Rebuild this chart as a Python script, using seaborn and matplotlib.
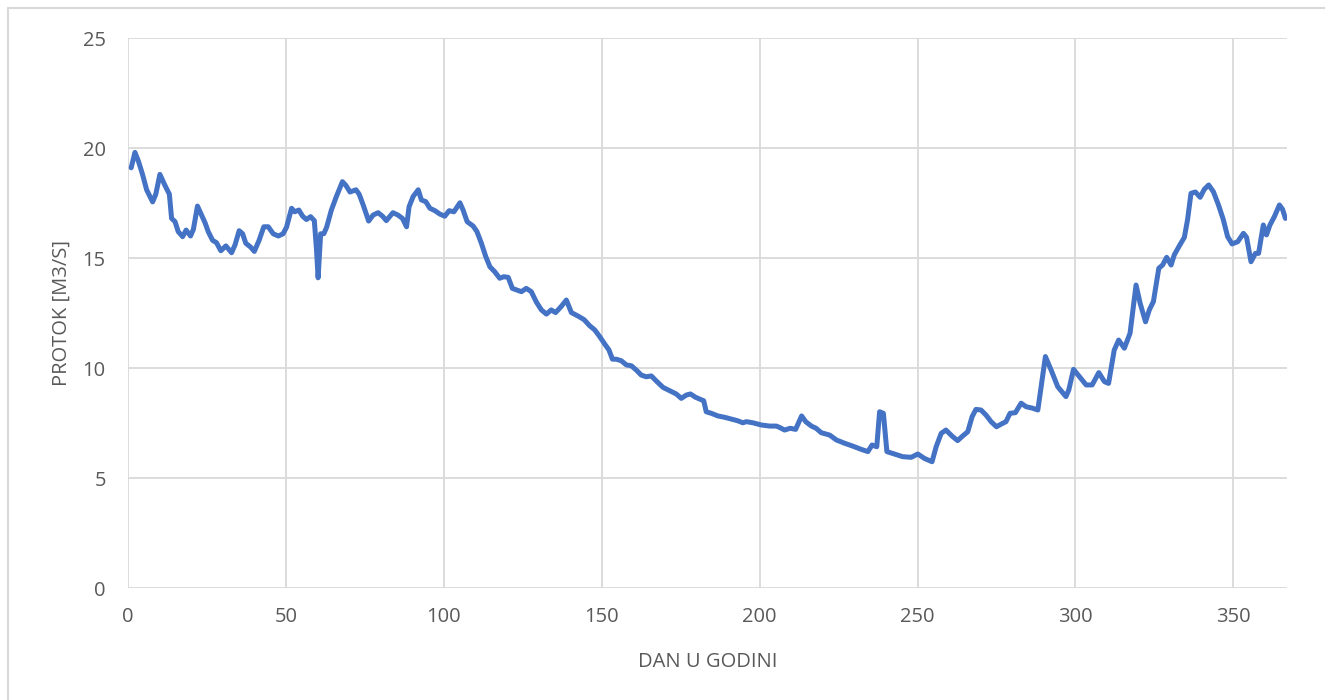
import matplotlib
matplotlib.use("Agg")
import matplotlib.pyplot as plt
import seaborn as sns
import pandas as pd
from matplotlib.lines import Line2D

# ---- data ----
days = [1, 2.2, 3.3, 4.6, 5.9, 7.8, 8.8, 10.1, 11.7, 13.1, 13.8, 14.9, 15.9, 17.3, 18.4, 19.8,
        20.7, 22.0, 23.3, 24.4, 25.4, 26.8, 28.0, 29.4, 31.0, 32.8, 33.9, 35.2, 36.3, 37.3, 38.8,
        40.0, 41.5, 43.0, 44.4, 46.0, 47.6, 49.1, 50.2, 51.8, 52.8, 54.1, 55.3, 56.5, 57.8, 59.0,
        59.7, 60.2, 61.0, 62.0, 62.9, 64.4, 66.0, 67.9, 69.0, 70.3, 72.2, 73.2, 74.5, 76.2, 77.6,
        79.2, 80.6, 81.8, 83.9, 85.5, 86.9, 88.2, 89.0, 90.3, 91.9, 92.9, 94.3, 95.6, 97.2, 98.7,
        100.3, 101.7, 103.2, 105.1, 106.1, 107.4, 109.3, 110.5, 111.9, 113.3, 114.6, 116.1, 117.7,
        119.0, 120.4, 121.7, 123.0, 124.6, 126.1, 127.7, 129.3, 130.9, 132.5, 134.0, 135.4, 137.2,
        138.8, 140.4, 142.5, 144.4, 146.2, 147.8, 149.4, 150.9, 152.3, 153.4, 154.6, 156.2, 157.8,
        159.4, 161.0, 162.5, 164.1, 165.7, 167.5, 169.4, 171.5, 173.6, 175.2, 176.8, 178.1, 179.7,
        181.2, 182.3, 183.1, 184.7, 186.8, 188.9, 191.0, 193.1, 194.7, 195.8, 197.9, 200.5, 203.2,
        205.3, 206.3, 207.9, 209.7, 211.4, 213.3, 214.6, 216.4, 217.9, 219.5, 222.2, 224.3, 226.9,
        229.5, 232.2, 234.3, 235.6, 237.1, 238.0, 239.2, 240.3, 242.7, 245.3, 248.0, 250.1, 252.2,
        254.6, 255.9, 257.5, 259.0, 260.9, 262.7, 264.3, 265.9, 267.3, 268.5, 270.1, 271.7, 273.3,
        275.0, 276.5, 278.0, 279.3, 281.0, 282.8, 284.4, 286.5, 288.1, 290.5, 292.3, 294.4, 297.0,
        297.9, 299.4, 301.3, 303.4, 305.3, 307.4, 309.2, 310.5, 312.3, 313.7, 315.5, 317.3, 319.2,
        320.5, 322.2, 323.4, 324.7, 326.4, 327.6, 328.9, 330.3, 331.3, 332.9, 334.5, 335.5, 336.6,
        338.0, 339.5, 340.8, 342.2, 343.7, 345.3, 346.8, 348.2, 349.6, 351.4, 353.2, 354.2, 355.6,
        357.0, 358.0, 359.5, 360.5, 361.6, 363.0, 364.6, 365.6, 366.5]
flow = [19.1, 19.8, 19.4, 18.8, 18.1, 17.55, 17.9, 18.8, 18.3, 17.9, 16.8, 16.65, 16.2, 15.97, 16.27, 16.0,
        16.3, 17.36, 16.95, 16.6, 16.2, 15.8, 15.7, 15.33, 15.55, 15.24, 15.6, 16.24, 16.1, 15.67, 15.5,
        15.3, 15.8, 16.42, 16.42, 16.1, 16.0, 16.1, 16.4, 17.26, 17.1, 17.18, 16.9, 16.75, 16.88, 16.7,
        15.36, 14.1, 16.1, 16.1, 16.4, 17.18, 17.8, 18.47, 18.3, 18.0, 18.1, 17.9, 17.4, 16.68, 16.95,
        17.06, 16.9, 16.7, 17.06, 16.95, 16.8, 16.42, 17.33, 17.8, 18.1, 17.64, 17.56, 17.26, 17.15, 17.0,
        16.9, 17.15, 17.1, 17.51, 17.18, 16.65, 16.45, 16.2, 15.67, 15.06, 14.6, 14.38, 14.08,
        14.15, 14.12, 13.62, 13.55, 13.47, 13.62, 13.47, 13.0, 12.64, 12.45, 12.64, 12.52, 12.8,
        13.09, 12.52, 12.36, 12.2, 11.92, 11.73, 11.42, 11.1, 10.82, 10.4, 10.4, 10.33, 10.14,
        10.1, 9.9, 9.68, 9.6, 9.64, 9.38, 9.12, 8.97, 8.82, 8.62, 8.77, 8.82, 8.67,
        8.58, 8.51, 8.01, 7.94, 7.82, 7.76, 7.68, 7.6, 7.51, 7.56, 7.51, 7.41, 7.36,
        7.36, 7.3, 7.18, 7.26, 7.21, 7.82, 7.56, 7.36, 7.26, 7.06, 6.95, 6.73, 6.58,
        6.45, 6.3, 6.2, 6.5, 6.42, 8.01, 7.94, 6.2, 6.09, 5.97, 5.94, 6.09, 5.89,
        5.74, 6.42, 7.03, 7.18, 6.91, 6.7, 6.91, 7.1, 7.79, 8.12, 8.09, 7.86, 7.56,
        7.33, 7.45, 7.56, 7.94, 7.97, 8.4, 8.24, 8.17, 8.09, 10.52, 9.91, 9.15, 8.7,
        9.0, 9.94, 9.6, 9.23, 9.23, 9.79, 9.38, 9.3, 10.82, 11.27, 10.9, 11.58, 13.77,
        12.94, 12.1, 12.64, 13.02, 14.53, 14.68, 15.03, 14.68, 15.14, 15.55, 15.94, 16.73, 17.94,
        18.0, 17.76, 18.12, 18.32, 18.01, 17.41, 16.76, 15.97, 15.64, 15.74, 16.12, 15.94, 14.83,
        15.21, 15.21, 16.5, 16.05, 16.5, 16.88, 17.41, 17.21, 16.8]

x_ticks = [0, 50, 100, 150, 200, 250, 300, 350]
y_ticks = [0, 5, 10, 15, 20, 25]
x_label = "DAN U GODINI"
y_label = "PROTOK [M3/S]"

df = pd.DataFrame({"dan": days, "protok": flow})

sns.set_theme(style="white")
plt.rcParams["font.family"] = ["Open Sans", "DejaVu Sans"]

W, H = 1325, 700
fig = plt.figure(figsize=(W / 100, H / 100), dpi=100)
ax = fig.add_axes([128 / W, 1 - 588 / H, (1287 - 128) / W, (588 - 38) / H])

grid_c = "#D9D9D9"
text_c = "#595959"

sns.lineplot(data=df, x="dan", y="protok", ax=ax, color="#4472C4", linewidth=3.6,
             sort=False, solid_joinstyle="round", solid_capstyle="round", zorder=3)

ax.set_xlim(0, 367)
ax.set_ylim(0, 25)
ax.set_xticks(x_ticks)
ax.set_yticks(y_ticks)
ax.set_xticklabels([str(t) for t in x_ticks])
ax.set_yticklabels([str(t) for t in y_ticks])
ax.grid(True, color=grid_c, linewidth=1.3, zorder=0)
ax.set_axisbelow(True)
for s in ax.spines.values():
    s.set_visible(False)
ax.tick_params(axis="both", length=0, labelsize=14.5, colors=text_c)
ax.tick_params(axis="y", pad=16)
ax.tick_params(axis="x", pad=14)

ax.set_xlabel(x_label, fontsize=14.5, color=text_c, labelpad=18)
ax.set_ylabel(y_label, fontsize=14.5, color=text_c, labelpad=8)

# outer chart border (left and top visible in the reference)
fig.add_artist(Line2D([8 / W, 8 / W], [0, 1 - 8 / H], transform=fig.transFigure,
                      color=grid_c, linewidth=1.5))
fig.add_artist(Line2D([8 / W, 1], [1 - 8 / H, 1 - 8 / H], transform=fig.transFigure,
                      color=grid_c, linewidth=1.5))

fig.savefig("out.png", dpi=100, facecolor="white")
